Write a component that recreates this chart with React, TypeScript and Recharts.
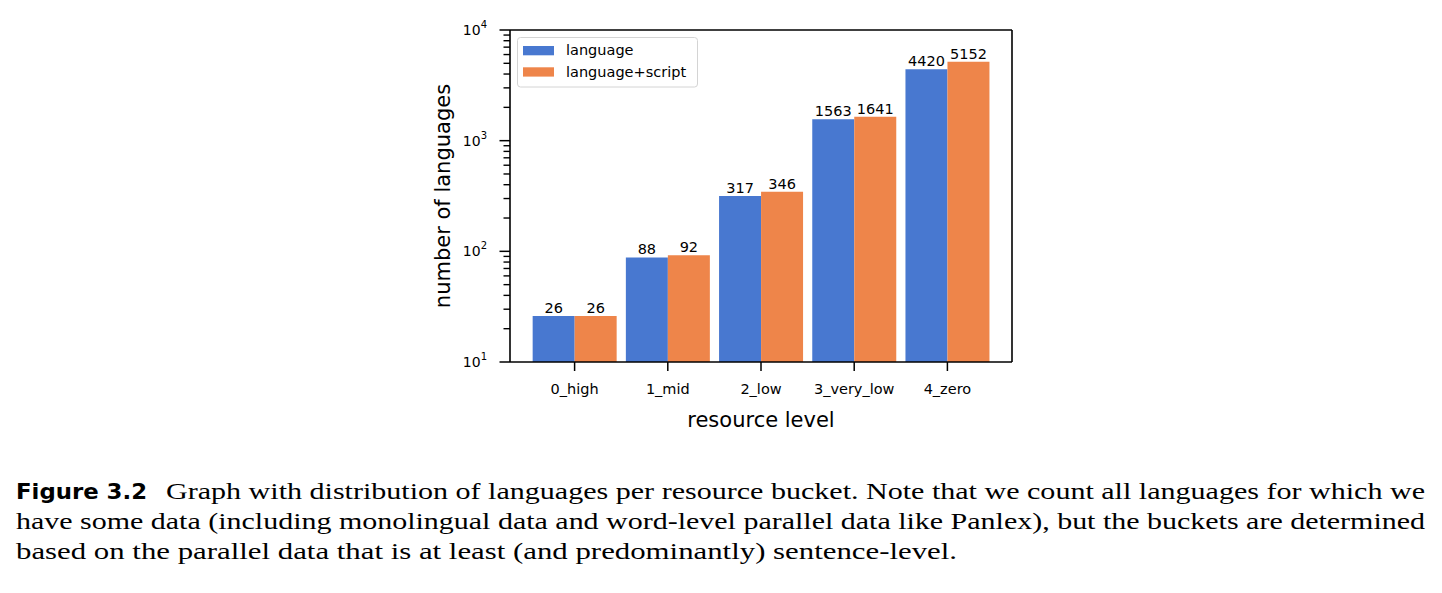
import React from 'react';
import { BarChart, Bar, XAxis, YAxis, LabelList, Legend } from 'recharts';

const categories = ['0_high', '1_mid', '2_low', '3_very_low', '4_zero'];
const languageCounts = [26, 88, 317, 1563, 4420];
const languageScriptCounts = [26, 92, 346, 1641, 5152];
const yMajorTicks = [10, 100, 1000, 10000];
const yMinorTicks = [20, 30, 40, 50, 60, 70, 80, 90, 200, 300, 400, 500, 600, 700, 800, 900, 2000, 3000, 4000, 5000, 6000, 7000, 8000, 9000];
const seriesNames = ['language', 'language+script'];
const seriesColors = ['#4878d0', '#ee854a'];
const captionLines = [
  'Graph with distribution of languages per resource bucket. Note that we count all languages for which we',
  'have some data (including monolingual data and word-level parallel data like Panlex), but the buckets are determined',
  'based on the parallel data that is at least (and predominantly) sentence-level.',
];

const data = categories.map((c, i) => ({
  name: c,
  language: languageCounts[i],
  languageScript: languageScriptCounts[i],
}));
const allYTicks = [...yMajorTicks, ...yMinorTicks].sort((a, b) => a - b);

const FONT = 'DejaVu Sans, sans-serif';

const YTick = (props: any) => {
  const { x, y, payload } = props;
  if (!yMajorTicks.includes(payload.value)) {
    return <line x1={x - 6.5} x2={x} y1={y} y2={y} stroke="#000" strokeWidth={1.4} />;
  }
  const exp = Math.round(Math.log10(payload.value));
  return (
    <g>
      <line x1={x - 10.5} x2={x} y1={y} y2={y} stroke="#000" strokeWidth={1.5} />
      <text x={x - 23} y={y + 5} textAnchor="end" fontFamily={FONT} fontSize={14} fill="#000">
        10<tspan dy={-7} fontSize={10}>{exp}</tspan>
      </text>
    </g>
  );
};

const LegendContent = () => (
  <svg width={182} height={52} style={{ display: 'block' }}>
    <rect x={0.5} y={0.5} width={180} height={49.5} rx={3} fill="#fff" fillOpacity={0.8} stroke="#d4d4d4" strokeWidth={1} />
    {seriesNames.map((n, i) => (
      <g key={n}>
        <rect x={6} y={9 + i * 21.3} width={31} height={9.3} fill={seriesColors[i]} />
        <text x={49} y={17.5 + i * 22.8} fontFamily={FONT} fontSize={14.5} fill="#000">{n}</text>
      </g>
    ))}
  </svg>
);

export default function App() {
  return (
    <div style={{ position: 'absolute', left: 0, top: 0, width: 1442, height: 593, background: '#fff' }}>
      <BarChart
        width={1442}
        height={593}
        data={data}
        margin={{ top: 29, right: 429, bottom: 201, left: 376 }}
        barCategoryGap="5%"
        barGap={0}
      >
        <XAxis
          dataKey="name"
          xAxisId="bottom"
          height={30}
          padding={{ left: 18, right: 18 }}
          tickSize={9}
          tickMargin={13}
          tickLine={{ stroke: '#000', strokeWidth: 1.5 }}
          axisLine={{ stroke: '#000', strokeWidth: 1.6 }}
          tick={{ fontSize: 14.5, fill: '#000', fontFamily: FONT }}
          interval={0}
          label={{ value: 'resource level', position: 'bottom', offset: 20, fontSize: 21, fill: '#000', fontFamily: FONT }}
        />
        <XAxis
          dataKey="name"
          xAxisId="top"
          orientation="top"
          height={1}
          padding={{ left: 18, right: 18 }}
          tick={false}
          tickLine={false}
          axisLine={{ stroke: '#000', strokeWidth: 1.6 }}
        />
        <YAxis
          yAxisId="left"
          scale="log"
          type="number"
          domain={[10, 10000]}
          allowDataOverflow
          ticks={allYTicks}
          interval={0}
          width={134}
          tickSize={0}
          tickMargin={0}
          tickLine={false}
          axisLine={{ stroke: '#000', strokeWidth: 1.6 }}
          tick={<YTick />}
          label={{ value: 'number of languages', angle: -90, position: 'center', fontSize: 21, fill: '#000', fontFamily: FONT }}
        />
        <YAxis
          yAxisId="right"
          orientation="right"
          scale="log"
          type="number"
          domain={[10, 10000]}
          allowDataOverflow
          width={1}
          tick={false}
          tickLine={false}
          axisLine={{ stroke: '#000', strokeWidth: 1.6 }}
        />
        <Legend
          layout="vertical"
          align="center"
          verticalAlign="middle"
          wrapperStyle={{ left: 517, top: 37, width: 182, height: 52 }}
          content={<LegendContent />}
        />
        <Bar dataKey="language" name={seriesNames[0]} xAxisId="bottom" yAxisId="left" fill={seriesColors[0]} isAnimationActive={false}>
          <LabelList dataKey="language" position="top" offset={3} fontSize={14.5} fill="#000" fontFamily={FONT} />
        </Bar>
        <Bar dataKey="languageScript" name={seriesNames[1]} xAxisId="bottom" yAxisId="left" fill={seriesColors[1]} isAnimationActive={false}>
          <LabelList dataKey="languageScript" position="top" offset={3} fontSize={14.5} fill="#000" fontFamily={FONT} />
        </Bar>
      </BarChart>
      <svg width={1442} height={120} style={{ position: 'absolute', left: 0, top: 470 }}>
        <text x={16} y={29} fontFamily={FONT} fontWeight="bold" fontSize={21} fill="#000" textLength={131} lengthAdjust="spacingAndGlyphs">Figure 3.2</text>
        <text x={166} y={29} fontFamily="Liberation Serif" fontSize={24} fill="#000" textLength={1259} lengthAdjust="spacingAndGlyphs">{captionLines[0]}</text>
        <text x={16} y={59} fontFamily="Liberation Serif" fontSize={24} fill="#000" textLength={1409} lengthAdjust="spacingAndGlyphs">{captionLines[1]}</text>
        <text x={16} y={89} fontFamily="Liberation Serif" fontSize={24} fill="#000" textLength={941} lengthAdjust="spacingAndGlyphs">{captionLines[2]}</text>
      </svg>
    </div>
  );
}
